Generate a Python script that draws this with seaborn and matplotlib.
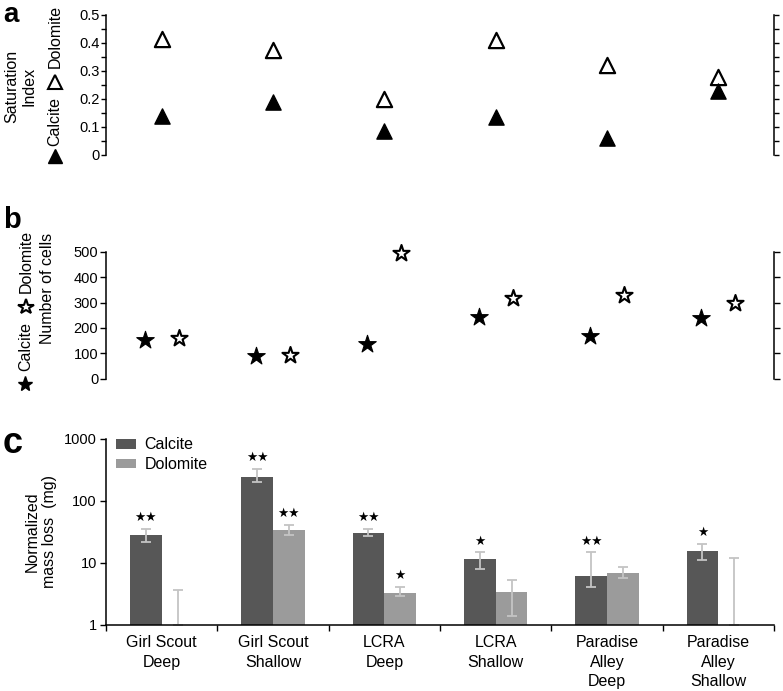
import numpy as np
import pandas as pd
import matplotlib
matplotlib.use('Agg')
import matplotlib.pyplot as plt
from matplotlib.lines import Line2D
from matplotlib.ticker import MultipleLocator, FixedLocator, NullLocator, FuncFormatter
import seaborn as sns


SITES = ['Girl Scout\nDeep', 'Girl Scout\nShallow', 'LCRA\nDeep', 'LCRA\nShallow',
         'Paradise\nAlley\nDeep', 'Paradise\nAlley\nShallow']
MINERALS = ['Calcite', 'Dolomite']

# panel a - saturation index
si_calcite = [0.14, 0.19, 0.085, 0.135, 0.06, 0.23]
si_dolomite = [0.415, 0.375, 0.20, 0.41, 0.32, 0.28]

# panel b - number of cells
cells_calcite = [153, 91, 137, 243, 168, 239]
cells_dolomite = [160, 94, 493, 318, 331, 298]

# panel c - normalized mass loss (mg), bar value and error bar ends
loss_calcite = [27.8, 237, 30.7, 11.7, 6.1, 15.3]
loss_calcite_lo = [22, 200, 27.5, 8.0, 4.1, 11.0]
loss_calcite_hi = [35.6, 326, 35.6, 14.9, 14.9, 20.4]
loss_dolomite = [np.nan, 34.3, 3.3, 3.4, 6.95, np.nan]
loss_dolomite_lo = [1, 28, 2.9, 1.4, 5.8, 1]
loss_dolomite_hi = [3.6, 41.3, 4.1, 5.2, 8.55, 12.1]
sig_calcite = ['★★', '★★', '★★', '★', '★★', '★']
sig_dolomite = ['', '★★', '★', '', '', '']

BAR_WIDTH = 0.57
BAR_COLORS = ['#575757', '#9b9b9b']
ERR_COLOR = '#c4c4c4'

W, H = 783, 691

sns.set_theme(style='ticks')
plt.rcParams['font.family'] = ['Liberation Sans', 'DejaVu Sans']
for k in ['text.color', 'axes.labelcolor', 'xtick.color', 'ytick.color', 'axes.edgecolor']:
    plt.rcParams[k] = 'black'

fig = plt.figure(figsize=(W / 100, H / 100), dpi=100)


def px_axes(left, top, right, bottom):
    return fig.add_axes([left / W, 1 - bottom / H, (right - left) / W, (bottom - top) / H])


def fmt(v, _):
    return '%g' % v


ax_a = px_axes(106, 15, 774, 155)
ax_b = px_axes(106, 251.7, 774, 378.7)
ax_c = px_axes(106, 438.5, 774, 625)

idx = np.arange(len(SITES))

# ---- panel a
sns.scatterplot(x=idx, y=si_dolomite, marker='^', s=120, color='white', edgecolor='black',
                linewidth=1.6, ax=ax_a, clip_on=False, zorder=3)
sns.scatterplot(x=idx, y=si_calcite, marker='^', s=120, color='black', edgecolor='black',
                linewidth=1.0, ax=ax_a, clip_on=False, zorder=3)
ax_a.set_xlim(-0.5, 5.5)
ax_a.set_ylim(0, 0.5)
ax_a.yaxis.set_major_locator(MultipleLocator(0.1))
ax_a.yaxis.set_minor_locator(MultipleLocator(0.05))
ax_a.yaxis.set_major_formatter(FuncFormatter(fmt))
ax_a.tick_params(axis='y', which='both', length=3.6, width=1, pad=1, labelsize=10.5,
                 right=True, labelright=False)

# ---- panel b
off = BAR_WIDTH / 4 + 0.01
sns.scatterplot(x=idx - off, y=cells_calcite, marker='*', s=175, color='black', edgecolor='black',
                linewidth=0.8, ax=ax_b, clip_on=False, zorder=3)
sns.scatterplot(x=idx + off, y=cells_dolomite, marker='*', s=150, color='white', edgecolor='black',
                linewidth=1.5, ax=ax_b, clip_on=False, zorder=3)
ax_b.set_xlim(-0.5, 5.5)
ax_b.set_ylim(0, 500)
ax_b.yaxis.set_major_locator(MultipleLocator(100))
ax_b.tick_params(axis='y', length=4.5, width=1, pad=1, labelsize=10.5,
                 right=True, labelright=False)

for ax in (ax_a, ax_b):
    ax.spines['top'].set_visible(False)
    ax.spines['bottom'].set_visible(False)
    ax.spines['left'].set_linewidth(1.1)
    ax.spines['right'].set_linewidth(1.1)
    ax.set_xticks([])
    ax.set_xlabel('')
    ax.set_ylabel('')

# ---- panel c
df_c = pd.DataFrame({
    'site': SITES * 2,
    'mineral': [MINERALS[0]] * len(SITES) + [MINERALS[1]] * len(SITES),
    'loss': loss_calcite + loss_dolomite,
})
sns.barplot(data=df_c, x='site', y='loss', hue='mineral', hue_order=MINERALS, order=SITES,
            palette=BAR_COLORS, width=BAR_WIDTH, errorbar=None, linewidth=0, ax=ax_c)
ax_c.set_yscale('log')
ax_c.set_ylim(1, 1000)
ax_c.set_xlim(-0.5, 5.5)

series = [(loss_calcite, loss_calcite_lo, loss_calcite_hi, sig_calcite, -1),
          (loss_dolomite, loss_dolomite_lo, loss_dolomite_hi, sig_dolomite, 1)]
for vals, lo, hi, sig, side in series:
    xs = idx + side * BAR_WIDTH / 4
    ys = np.where(np.isnan(vals), lo, vals)
    yerr = [ys - np.array(lo), np.array(hi) - ys]
    ax_c.errorbar(xs, ys, yerr=yerr, fmt='none', ecolor=ERR_COLOR, elinewidth=1.3,
                  capsize=3.5, capthick=1.3, zorder=2.2)
    for x, h, s in zip(xs, hi, sig):
        if s:
            ax_c.annotate(s, xy=(x, h), xytext=(0, 8), textcoords='offset points',
                          ha='center', va='center', fontsize=9, family='DejaVu Sans')

ax_c.yaxis.set_major_locator(FixedLocator([1, 10, 100, 1000]))
ax_c.yaxis.set_minor_locator(NullLocator())
ax_c.yaxis.set_major_formatter(FuncFormatter(fmt))
ax_c.tick_params(axis='y', length=4.5, width=1, pad=2, labelsize=10.5)
ax_c.set_xticks(np.arange(-0.5, len(SITES), 1), [''] * (len(SITES) + 1))
ax_c.set_xticks(idx, SITES, minor=True)
ax_c.tick_params(axis='x', which='major', length=4, width=1, direction='out')
ax_c.tick_params(axis='x', which='minor', length=0, pad=7, labelsize=11.5)
for lab in ax_c.get_xticklabels(minor=True):
    lab.set_linespacing(1.4)
ax_c.spines['top'].set_visible(False)
ax_c.spines['right'].set_visible(False)
ax_c.spines['left'].set_linewidth(1.1)
ax_c.spines['bottom'].set_linewidth(1.1)
ax_c.set_xlabel('')
ax_c.set_ylabel('')
ax_c.legend(loc='upper left', bbox_to_anchor=(0.005, 1.04), frameon=False, fontsize=11.5,
            handlelength=1.3, handleheight=0.55, handletextpad=0.5, labelspacing=0.3,
            borderaxespad=0)

# ---- axis titles and panel letters
def fig_text(x, y, s, **kw):
    fig.text(x / W, 1 - y / H, s, **kw)


def fig_marker(x, y, marker, ms, filled):
    fig.add_artist(Line2D([x / W], [1 - y / H], transform=fig.transFigure, marker=marker,
                          ms=ms, mfc='black' if filled else 'white', mec='black',
                          mew=1.0 if filled else 1.5, linestyle='none'))


lab_kw = dict(rotation=90, ha='center', va='center', fontsize=11.5, multialignment='center')
fig_text(20, 86, 'Saturation\nIndex', **lab_kw)
# legend-like labels: upright symbols, rotated words
fig_marker(55, 156, '^', 10.5, True)
fig_text(55, 122, 'Calcite', **lab_kw)
fig_marker(55, 82, '^', 10.5, False)
fig_text(55, 36, 'Dolomite', **lab_kw)

fig_marker(25, 384, '*', 11, True)
fig_text(26, 347, 'Calcite', **lab_kw)
fig_marker(26, 307, '*', 11.5, False)
fig_text(26, 261, 'Dolomite', **lab_kw)
fig_text(48, 288, 'Number of cells', **lab_kw)
fig_text(41, 532, 'Normalized\nmass loss  (mg)', **lab_kw)

fig_text(3, 22, 'a', fontsize=20, fontweight='bold', ha='left', va='baseline')
fig_text(3, 228, 'b', fontsize=21, fontweight='bold', ha='left', va='baseline')
fig_text(3, 453, 'c', fontsize=26, fontweight='bold', ha='left', va='baseline')

fig.savefig('out.png', dpi=100)
